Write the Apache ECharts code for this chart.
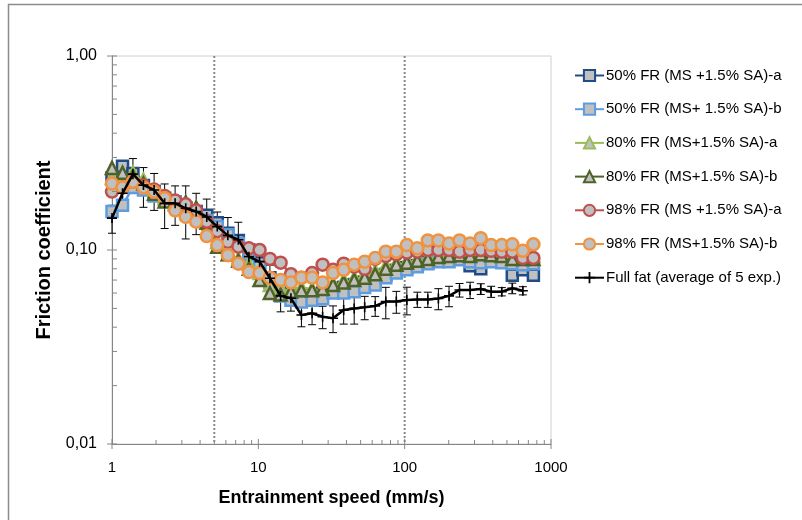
<!DOCTYPE html>
<html>
<head>
<meta charset="utf-8">
<script src="https://cdn.jsdelivr.net/npm/echarts@6/dist/echarts.min.js"></script>
<style>html,body{margin:0;padding:0;background:#fff}#c{width:802px;height:520px}</style>
</head>
<body>
<div id="c"></div>
<script>
// Entrainment speed (mm/s) of each measurement step
const speeds = [1, 1.18, 1.39, 1.64, 1.94, 2.29, 2.7, 3.19, 3.76, 4.44, 5.24, 6.19, 7.3, 8.62, 10.2, 12, 14.2, 16.7, 19.7, 23.3, 27.5, 32.4, 38.3, 45.2, 53.3, 62.9, 74.3, 87.7, 103.5, 122, 144, 170, 201, 237, 280, 331, 390, 461, 544, 642, 758];

const fr50a = [0.235, 0.27, 0.248, 0.215, 0.2, 0.185, 0.177, 0.165, 0.158, 0.151, 0.138, 0.122, 0.112, 0.1, 0.086, 0.072, 0.062, 0.058, 0.057, 0.058, 0.06, 0.062, 0.064, 0.066, 0.068, 0.07, 0.074, 0.078, 0.081, 0.083, 0.086, 0.088, 0.09, 0.09, 0.083, 0.08, 0.088, 0.087, 0.074, 0.079, 0.074];
const fr50b = [0.158, 0.17, 0.21, 0.204, 0.19, 0.18, 0.177, 0.163, 0.152, 0.142, 0.132, 0.12, 0.108, 0.095, 0.082, 0.068, 0.058, 0.055, 0.054, 0.055, 0.056, 0.06, 0.06, 0.061, 0.064, 0.066, 0.072, 0.076, 0.079, 0.082, 0.085, 0.087, 0.087, 0.089, 0.087, 0.086, 0.087, 0.086, 0.085, 0.084, 0.085];
const fr80a = [0.235, 0.235, 0.25, 0.23, 0.205, 0.185, 0.175, 0.172, 0.165, 0.14, 0.11, 0.095, 0.09, 0.085, 0.076, 0.066, 0.064, 0.063, 0.064, 0.063, 0.064, 0.067, 0.07, 0.072, 0.075, 0.078, 0.083, 0.086, 0.088, 0.09, 0.092, 0.094, 0.095, 0.096, 0.095, 0.097, 0.096, 0.095, 0.094, 0.093, 0.093];
const fr80b = [0.265, 0.25, 0.24, 0.22, 0.195, 0.178, 0.172, 0.176, 0.165, 0.138, 0.104, 0.095, 0.088, 0.08, 0.07, 0.06, 0.059, 0.061, 0.062, 0.062, 0.063, 0.066, 0.068, 0.07, 0.072, 0.075, 0.08, 0.084, 0.086, 0.088, 0.09, 0.092, 0.093, 0.094, 0.093, 0.095, 0.094, 0.093, 0.09, 0.09, 0.09];
const fr98a = [0.2, 0.21, 0.225, 0.215, 0.205, 0.19, 0.18, 0.172, 0.16, 0.14, 0.125, 0.11, 0.104, 0.102, 0.1, 0.09, 0.086, 0.075, 0.072, 0.076, 0.084, 0.079, 0.085, 0.082, 0.08, 0.09, 0.093, 0.095, 0.097, 0.098, 0.1, 0.1, 0.1, 0.098, 0.1, 0.1, 0.099, 0.098, 0.098, 0.091, 0.091];
const fr98b = [0.22, 0.21, 0.225, 0.21, 0.2, 0.185, 0.16, 0.148, 0.14, 0.118, 0.106, 0.094, 0.085, 0.077, 0.076, 0.072, 0.07, 0.068, 0.072, 0.072, 0.068, 0.076, 0.079, 0.084, 0.087, 0.091, 0.098, 0.098, 0.106, 0.102, 0.112, 0.112, 0.108, 0.112, 0.108, 0.115, 0.106, 0.106, 0.107, 0.099, 0.107];
const fullFat = [0.146, 0.196, 0.246, 0.216, 0.204, 0.174, 0.174, 0.164, 0.158, 0.148, 0.132, 0.119, 0.113, 0.0924, 0.0871, 0.0715, 0.058, 0.0564, 0.0462, 0.0472, 0.0453, 0.0445, 0.049, 0.05, 0.0507, 0.0515, 0.0542, 0.0542, 0.0553, 0.0556, 0.0556, 0.0562, 0.058, 0.0622, 0.0622, 0.063, 0.061, 0.061, 0.0635, 0.0617];
const fullFatErr = [0.024, 0.03, 0.05, 0.05, 0.044, 0.045, 0.04, 0.05, 0.038, 0.035, 0.025, 0.028, 0.026, 0.014, 0.012, 0.012, 0.01, 0.008, 0.006, 0.006, 0.006, 0.007, 0.0075, 0.0085, 0.007, 0.006, 0.01, 0.007, 0.009, 0.005, 0.005, 0.007, 0.007, 0.005, 0.006, 0.004, 0.004, 0.003, 0.004, 0.003];

const seriesNames = ['50% FR (MS +1.5% SA)-a', '50% FR (MS+ 1.5% SA)-b', '80% FR (MS+1.5% SA)-a', '80% FR (MS+1.5% SA)-b', '98% FR (MS +1.5% SA)-a', '98% FR (MS+1.5% SA)-b', 'Full fat (average of 5 exp.)'];
const refLines = [5, 100];
const xMajor = [1, 10, 100, 1000];
const xMinor = [2, 3, 4, 5, 6, 7, 8, 9, 20, 30, 40, 50, 60, 70, 80, 90, 200, 300, 400, 500, 600, 700, 800, 900];
const yMajor = [0.01, 0.1, 1];
const yMinor = [0.02, 0.03, 0.04, 0.05, 0.06, 0.07, 0.08, 0.09, 0.2, 0.3, 0.4, 0.5, 0.6, 0.7, 0.8, 0.9];

const chart = echarts.init(document.getElementById('c'));
const FONT = 'Liberation Sans';
const fill = '#C0C0C0';

function mkLine(name, vals, color, symbol, size) {
  return {
    name, type: 'line', data: vals.map((v, i) => [speeds[i], v]),
    symbol, symbolSize: size, showSymbol: true,
    lineStyle: { color, width: 2.5 },
    itemStyle: { color: fill, borderColor: color, borderWidth: 2.5 },
    emphasis: { disabled: true }, animation: false
  };
}

const axisCol = '#868686';
const tickSeriesX = {
  type: 'custom', silent: true, z: 10, clip: false, animation: false,
  data: xMajor.map(v => [v, 1]).concat(xMinor.map(v => [v, 0])),
  renderItem(params, api) {
    const p = api.coord([api.value(0), 0.01]);
    const major = api.value(1) === 1;
    return { type: 'line', shape: { x1: p[0], y1: major ? p[1] - 5 : p[1], x2: p[0], y2: major ? p[1] + 5 : p[1] - 4 }, style: { stroke: axisCol, lineWidth: 1 } };
  }
};
const tickSeriesY = {
  type: 'custom', silent: true, z: 10, clip: false, animation: false,
  data: yMajor.map(v => [1, v, 1]).concat(yMinor.map(v => [1, v, 0])),
  renderItem(params, api) {
    const p = api.coord([1, api.value(1)]);
    const major = api.value(2) === 1;
    return { type: 'line', shape: { x1: major ? p[0] - 5 : p[0], y1: p[1], x2: p[0] + 5, y2: p[1] }, style: { stroke: axisCol, lineWidth: 1 } };
  }
};
const errSeries = {
  type: 'custom', silent: true, z: 3, clip: false, animation: false,
  data: fullFat.map((v, i) => [speeds[i], v - fullFatErr[i], v + fullFatErr[i]]),
  renderItem(params, api) {
    const x = api.value(0);
    const lo = api.coord([x, api.value(1)]);
    const hi = api.coord([x, api.value(2)]);
    const st = { stroke: '#000', lineWidth: 1 };
    return { type: 'group', children: [
      { type: 'line', shape: { x1: lo[0], y1: lo[1], x2: hi[0], y2: hi[1] }, style: st },
      { type: 'line', shape: { x1: lo[0] - 4, y1: lo[1], x2: lo[0] + 4, y2: lo[1] }, style: st },
      { type: 'line', shape: { x1: hi[0] - 4, y1: hi[1], x2: hi[0] + 4, y2: hi[1] }, style: st }
    ] };
  }
};
const refSeries = {
  type: 'custom', silent: true, z: 1, clip: false, animation: false,
  data: refLines.map(v => [v]),
  renderItem(params, api) {
    const a = api.coord([api.value(0), 1]);
    const b = api.coord([api.value(0), 0.01]);
    return { type: 'line', shape: { x1: a[0], y1: a[1], x2: b[0], y2: b[1] }, style: { stroke: '#8a8a8a', lineWidth: 2, lineDash: [2, 2] } };
  }
};

const plus = 'path://M4.2,0H5.8V4.2H10V5.8H5.8V10H4.2V5.8H0V4.2H4.2Z';

chart.setOption({
  backgroundColor: '#fff',
  animation: false,
  textStyle: { fontFamily: FONT },
  graphic: [
    { type: 'rect', shape: { x: 8.5, y: 4.5, width: 1000, height: 1000 }, style: { fill: 'none', stroke: '#8c8c8c', lineWidth: 1.5 }, silent: true, z: -1 }
  ],
  grid: { left: 112, right: 251, top: 56, bottom: 76, show: true, borderColor: '#d0d0d0', borderWidth: 1, backgroundColor: 'transparent' },
  legend: {
    data: seriesNames, orient: 'vertical', left: 574, top: 68, padding: 0,
    itemWidth: 29, itemHeight: 14, itemGap: 18.7,
    textStyle: { fontFamily: FONT, fontSize: 15, color: '#000', lineHeight: 14, padding: [0, 0, 0, -3] },
    selectedMode: false
  },
  xAxis: {
    type: 'log', logBase: 10, min: 1, max: 1000,
    name: 'Entrainment speed (mm/s)', nameLocation: 'middle', nameGap: 45,
    nameTextStyle: { fontFamily: FONT, fontSize: 18, fontWeight: 'bold', color: '#000' },
    axisLine: { lineStyle: { color: axisCol, width: 1 } },
    axisTick: { show: false }, minorTick: { show: false },
    splitLine: { show: false },
    axisLabel: { fontFamily: FONT, fontSize: 15, color: '#000', margin: 16, formatter: v => String(Math.round(v)) }
  },
  yAxis: {
    type: 'log', logBase: 10, min: 0.01, max: 1,
    name: 'Friction coefficient', nameLocation: 'middle', nameGap: 56,
    nameTextStyle: { fontFamily: FONT, fontSize: 20, fontWeight: 'bold', color: '#000' },
    axisLine: { lineStyle: { color: axisCol, width: 1 } },
    axisTick: { show: false }, minorTick: { show: false },
    splitLine: { show: false },
    axisLabel: { fontFamily: FONT, fontSize: 16, color: '#000', margin: 15, formatter: v => Number(v).toFixed(2).replace('.', ',') }
  },
  series: [
    refSeries,
    mkLine(seriesNames[0], fr50a, '#1F4B86', 'rect', 11),
    mkLine(seriesNames[1], fr50b, '#5E9CE0', 'rect', 11),
    mkLine(seriesNames[2], fr80a, '#9BBB59', 'triangle', 12),
    mkLine(seriesNames[3], fr80b, '#4F6228', 'triangle', 12),
    mkLine(seriesNames[4], fr98a, '#C0504D', 'circle', 12),
    mkLine(seriesNames[5], fr98b, '#F0923F', 'circle', 12),
    errSeries,
    {
      name: seriesNames[6], type: 'line', data: fullFat.map((v, i) => [speeds[i], v]),
      symbol: plus, symbolSize: 10, showSymbol: true, z: 4,
      lineStyle: { color: '#000', width: 2.5 },
      itemStyle: { color: '#000' }, emphasis: { disabled: true }
    },
    tickSeriesX, tickSeriesY
  ]
});
</script>
</body>
</html>
